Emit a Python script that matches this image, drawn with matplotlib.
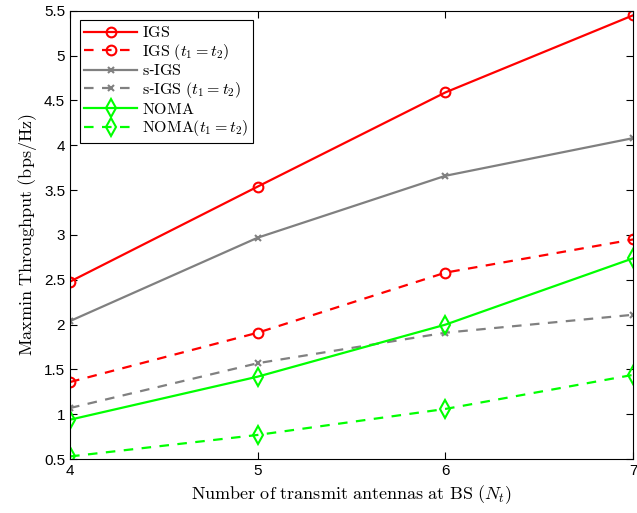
import numpy as np
import matplotlib.pyplot as plt

plt.rcParams['mathtext.fontset'] = 'cm'
plt.rcParams['font.family'] = ['Liberation Sans', 'DejaVu Sans']

antennas = [4, 5, 6, 7]
igs = [2.48, 3.54, 4.59, 5.45]
igs_eq = [1.36, 1.91, 2.58, 2.95]
sigs = [2.04, 2.97, 3.66, 4.08]
sigs_eq = [1.07, 1.57, 1.91, 2.11]
noma = [0.94, 1.42, 2.00, 2.74]
noma_eq = [0.53, 0.77, 1.06, 1.44]

red = '#ff0000'
gray = '#808080'
green = '#00ff00'

fig = plt.figure(figsize=(6.37, 5.13), dpi=100)
ax = fig.add_axes([0.110, 0.105, 0.884, 0.874])

dash = (4.3, 3.8)
ax.plot(antennas, igs, '-', color=red, marker='o', label=r'$\mathrm{IGS}$',
        markersize=7, markerfacecolor='none', markeredgewidth=1.5, linewidth=1.6)
ax.plot(antennas, igs_eq, '--', dashes=dash, color=red, marker='o', label=r'$\mathrm{IGS}\ (t_1=t_2)$',
        markersize=7, markerfacecolor='none', markeredgewidth=1.5, linewidth=1.6)
ax.plot(antennas, sigs, '-', color=gray, marker='x', label=r'$\mathrm{s}$-$\mathrm{IGS}$',
        markersize=5, markeredgewidth=1.5, linewidth=1.6)
ax.plot(antennas, sigs_eq, '--', dashes=dash, color=gray, marker='x', label=r'$\mathrm{s}$-$\mathrm{IGS}\ (t_1=t_2)$',
        markersize=5, markeredgewidth=1.5, linewidth=1.6)
ax.plot(antennas, noma, '-', color=green, marker='d', label=r'$\mathrm{NOMA}$',
        markersize=9, markerfacecolor='none', markeredgewidth=1.5, linewidth=1.6)
ax.plot(antennas, noma_eq, '--', dashes=dash, color=green, marker='d', label=r'$\mathrm{NOMA}(t_1=t_2)$',
        markersize=9, markerfacecolor='none', markeredgewidth=1.5, linewidth=1.6)

ax.set_xlim(4, 7)
ax.set_ylim(0.5, 5.5)
ax.set_xticks([4, 5, 6, 7])
ax.set_yticks(np.arange(0.5, 5.51, 0.5))
ax.set_yticklabels(['0.5', '1', '1.5', '2', '2.5', '3', '3.5', '4', '4.5', '5', '5.5'])
ax.tick_params(direction='in', top=True, right=True, labelsize=11, length=5)
for s in ax.spines.values():
    s.set_linewidth(0.8)

ax.set_xlabel(r'$\mathrm{Number\ of\ transmit\ antennas\ at\ BS}\ (N_t)$', fontsize=13)
ax.set_ylabel(r'$\mathrm{Maxmin\ Throughput\ (bps/Hz)}$', fontsize=13)

leg = ax.legend(loc='upper left', fontsize=11.5, fancybox=False, edgecolor='black',
                framealpha=1, borderpad=0.3, labelspacing=0.1, handlelength=3.3,
                handletextpad=0.3, borderaxespad=0.6)
leg.get_frame().set_linewidth(0.8)

fig.savefig('out.png', dpi=100)
